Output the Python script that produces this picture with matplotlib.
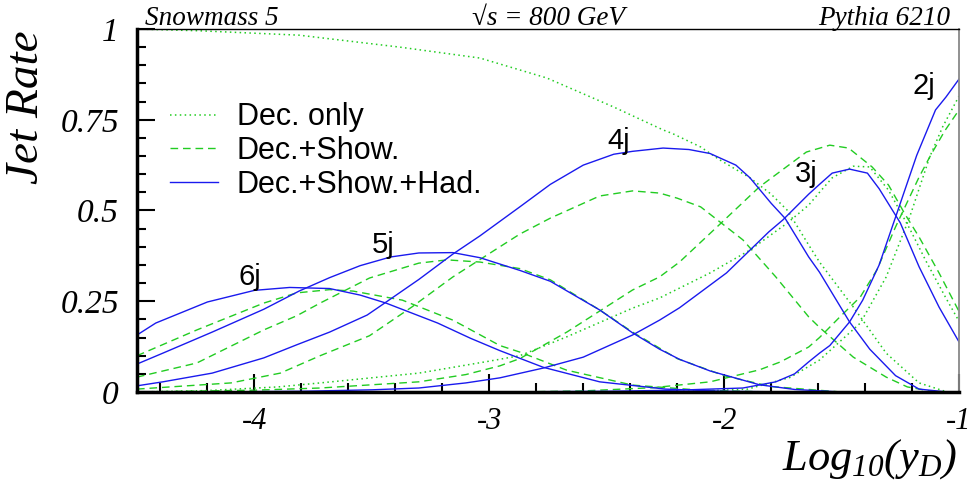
import matplotlib
matplotlib.use("Agg")
import matplotlib.pyplot as plt
from matplotlib.ticker import MultipleLocator
from matplotlib.lines import Line2D

# Datos: Log10(yD) -> Jet Rate
# Dec.+Show.+Had. (azul, continuo)
had_6j_x = [-4.5, -4.42, -4.2, -4.0, -3.85, -3.68, -3.55, -3.44, -3.22, -3.08, -2.955, -2.77, -2.53, -2.25, -2.0, -1.7, -1.0]
had_6j_y = [0.157, 0.19, 0.248, 0.28, 0.288, 0.285, 0.267, 0.245, 0.19, 0.148, 0.114, 0.068, 0.028, 0.008, 0.002, 0.0, 0.0]
had_5j_x = [-4.5, -4.39, -4.18, -3.96, -3.81, -3.68, -3.55, -3.42, -3.3, -3.155, -3.04, -2.87, -2.74, -2.53, -2.39, -2.275, -2.19, -2.06, -1.85, -1.7, -1.5, -1.0]
had_5j_y = [0.077, 0.107, 0.165, 0.228, 0.278, 0.315, 0.348, 0.372, 0.383, 0.384, 0.37, 0.335, 0.305, 0.226, 0.163, 0.118, 0.09, 0.058, 0.02, 0.007, 0.0, 0.0]
had_4j_x = [-4.5, -4.39, -4.18, -3.96, -3.82, -3.68, -3.52, -3.45, -3.3, -3.155, -3.04, -2.955, -2.87, -2.74, -2.6, -2.47, -2.39, -2.26, -2.15, -2.06, -1.95, -1.89, -1.8, -1.74, -1.64, -1.594, -1.466, -1.38, -1.27, -1.17, -1.05, -1.0]
had_4j_y = [0.017, 0.028, 0.052, 0.094, 0.13, 0.165, 0.212, 0.243, 0.31, 0.38, 0.43, 0.47, 0.51, 0.572, 0.625, 0.655, 0.663, 0.672, 0.668, 0.657, 0.625, 0.59, 0.52, 0.478, 0.372, 0.33, 0.193, 0.118, 0.045, 0.008, 0.0, 0.0]
had_3j_x = [-4.2, -3.8, -3.5, -3.3, -3.1, -2.955, -2.77, -2.6, -2.39, -2.275, -2.19, -1.99, -1.81, -1.75, -1.64, -1.594, -1.54, -1.466, -1.39, -1.34, -1.25, -1.17, -1.085, -1.0]
had_3j_y = [0.0, 0.002, 0.006, 0.011, 0.025, 0.039, 0.066, 0.096, 0.157, 0.198, 0.232, 0.328, 0.441, 0.474, 0.545, 0.572, 0.603, 0.614, 0.603, 0.56, 0.466, 0.345, 0.234, 0.138]
had_2j_x = [-3.0, -2.5, -2.2, -1.92, -1.78, -1.7, -1.64, -1.594, -1.55, -1.466, -1.41, -1.34, -1.27, -1.18, -1.1, -1.055, -1.0]
had_2j_y = [0.0, 0.002, 0.005, 0.011, 0.028, 0.05, 0.083, 0.107, 0.128, 0.193, 0.253, 0.35, 0.482, 0.652, 0.777, 0.813, 0.862]

# Dec.+Show. (verde, discontinuo)
show_6j_x = [-4.5, -4.245, -3.96, -3.82, -3.68, -3.58, -3.37, -3.155, -2.955, -2.87, -2.67, -2.39, -2.1, -1.8, -1.0]
show_6j_y = [0.1, 0.171, 0.245, 0.273, 0.282, 0.278, 0.253, 0.198, 0.128, 0.11, 0.06, 0.019, 0.005, 0.0, 0.0]
show_5j_x = [-4.5, -4.245, -3.96, -3.82, -3.72, -3.51, -3.3, -3.18, -3.04, -2.87, -2.74, -2.53, -2.39, -2.2, -2.0, -1.8, -1.5, -1.0]
show_5j_y = [0.041, 0.08, 0.171, 0.21, 0.245, 0.314, 0.355, 0.364, 0.358, 0.34, 0.309, 0.226, 0.165, 0.092, 0.045, 0.015, 0.0, 0.0]
show_4j_x = [-4.5, -4.1, -3.89, -3.72, -3.51, -3.33, -3.155, -2.955, -2.87, -2.74, -2.53, -2.39, -2.275, -2.2, -2.1, -1.92, -1.78, -1.64, -1.594, -1.45, -1.31, -1.22, -1.1, -1.0]
show_4j_y = [0.008, 0.025, 0.052, 0.1, 0.155, 0.234, 0.317, 0.4, 0.435, 0.479, 0.54, 0.554, 0.548, 0.534, 0.51, 0.419, 0.317, 0.207, 0.178, 0.096, 0.041, 0.014, 0.0, 0.0]
show_3j_x = [-4.5, -4.0, -3.72, -3.3, -3.1, -2.955, -2.87, -2.67, -2.39, -2.275, -2.19, -2.03, -1.85, -1.65, -1.55, -1.47, -1.37, -1.3, -1.23, -1.17, -1.085, -1.0]
show_3j_y = [0.0, 0.005, 0.011, 0.028, 0.048, 0.072, 0.092, 0.165, 0.281, 0.317, 0.358, 0.455, 0.565, 0.661, 0.68, 0.672, 0.62, 0.57, 0.49, 0.427, 0.328, 0.222]
show_2j_x = [-2.9, -2.6, -2.3, -2.06, -1.85, -1.76, -1.64, -1.594, -1.51, -1.42, -1.35, -1.27, -1.17, -1.12, -1.06, -1.0]
show_2j_y = [0.0, 0.003, 0.012, 0.028, 0.061, 0.083, 0.124, 0.15, 0.205, 0.262, 0.336, 0.455, 0.592, 0.653, 0.72, 0.777]

# Dec. only (verde, punteado)
dec_4j_x = [-4.5, -4.23, -3.81, -3.38, -3.04, -2.755, -2.47, -2.26, -2.22, -2.1, -2.02, -1.89, -1.8, -1.73, -1.64, -1.594, -1.45, -1.31, -1.17, -1.05, -1.0]
dec_4j_y = [1.0, 0.995, 0.983, 0.95, 0.92, 0.865, 0.785, 0.722, 0.712, 0.675, 0.64, 0.59, 0.545, 0.5, 0.405, 0.358, 0.234, 0.107, 0.025, 0.0, 0.0]
dec_3j_x = [-4.5, -4.2, -3.9, -3.72, -3.3, -3.0, -2.87, -2.67, -2.39, -2.275, -2.06, -1.89, -1.73, -1.64, -1.594, -1.54, -1.45, -1.38, -1.3, -1.21, -1.14, -1.055, -1.0]
dec_3j_y = [0.0, 0.004, 0.014, 0.025, 0.052, 0.085, 0.1, 0.152, 0.231, 0.259, 0.328, 0.391, 0.466, 0.515, 0.55, 0.59, 0.622, 0.62, 0.556, 0.45, 0.36, 0.258, 0.195]
dec_2j_x = [-2.3, -2.0, -1.9, -1.72, -1.594, -1.42, -1.31, -1.21, -1.125, -1.07, -1.0]
dec_2j_y = [0.0, 0.005, 0.008, 0.04, 0.088, 0.19, 0.317, 0.482, 0.647, 0.73, 0.815]

# Etiquetas de multiplicidad
jet_labels = ["2j", "3j", "4j", "5j", "6j"]
jet_label_x = [-1.15, -1.65, -2.45, -3.45, -4.02]
jet_label_y = [0.843, 0.60, 0.691, 0.405, 0.317]

legend_labels = ["Dec. only", "Dec.+Show.", "Dec.+Show.+Had."]

GREEN = "#22cc22"
BLUE = "#1a1aee"
SERIF = "Liberation Serif"
SANS = "Liberation Sans"

plt.rcParams["mathtext.fontset"] = "custom"
plt.rcParams["mathtext.rm"] = "Liberation Serif:italic"
plt.rcParams["mathtext.it"] = "Liberation Serif:italic"

fig = plt.figure(figsize=(9.73, 4.90), dpi=100)
ax = fig.add_axes([137 / 973, 98 / 490, 822 / 973, 363 / 490])

dot_style = dict(color=GREEN, lw=1.1, linestyle=(0, (1, 2.2)))
dash_style = dict(color=GREEN, lw=1.0, linestyle=(0, (5.5, 3.5)))
solid_style = dict(color=BLUE, lw=1.0, linestyle="-")

for xs, ys in [(dec_4j_x, dec_4j_y), (dec_3j_x, dec_3j_y), (dec_2j_x, dec_2j_y)]:
    ax.plot(xs, ys, **dot_style)
for xs, ys in [(show_6j_x, show_6j_y), (show_5j_x, show_5j_y), (show_4j_x, show_4j_y),
               (show_3j_x, show_3j_y), (show_2j_x, show_2j_y)]:
    ax.plot(xs, ys, **dash_style)
for xs, ys in [(had_6j_x, had_6j_y), (had_5j_x, had_5j_y), (had_4j_x, had_4j_y),
               (had_3j_x, had_3j_y), (had_2j_x, had_2j_y)]:
    ax.plot(xs, ys, **solid_style)

for lab, lx, ly in zip(jet_labels, jet_label_x, jet_label_y):
    ax.text(lx, ly, lab, fontsize=21, family=SANS, ha="center", va="center")

handles = [Line2D([], [], **dot_style), Line2D([], [], **dash_style), Line2D([], [], **solid_style)]
leg = ax.legend(handles, legend_labels, loc="upper left", bbox_to_anchor=(0.04, 0.798),
                frameon=False, prop={"family": SANS, "size": 22}, handlelength=1.57,
                handletextpad=0.62, labelspacing=0.12, borderaxespad=0, borderpad=0)

ax.set_xlim(-4.5, -1)
ax.set_ylim(0, 1)
ax.set_xticks([-4, -3, -2, -1])
ax.set_xticklabels(["-4", "-3", "-2", "-1"])
ax.set_yticks([0, 0.25, 0.5, 0.75, 1])
ax.set_yticklabels(["0", "0.25", "0.5", "0.75", "1"])
ax.xaxis.set_minor_locator(MultipleLocator(0.2))
ax.yaxis.set_minor_locator(MultipleLocator(0.05))
ax.tick_params(which="both", direction="in", top=False, right=False, width=1.5, color="black")
ax.tick_params(which="major", length=13)
ax.tick_params(which="minor", length=6.5)
ax.tick_params(axis="x", pad=11, labelsize=22)
ax.tick_params(axis="y", pad=13, labelsize=24)
for t in ax.get_xticklabels() + ax.get_yticklabels():
    t.set_fontfamily(SERIF)
    t.set_fontstyle("italic")

ax.spines["left"].set_linewidth(2.5)
ax.spines["bottom"].set_linewidth(2.5)
ax.spines["top"].set_linewidth(1.0)
ax.spines["right"].set_linewidth(1.3)
ax.spines["right"].set_color("#888888")

# Titulos de la figura
fig.text(0.027, 1 - 30 / 490, "Jet Rate", rotation=90, ha="center", va="top",
         family=SERIF, style="italic", fontsize=34)
fig.text(957 / 973, 1 - 470 / 490, r"$Log_{10}(y_D)$", ha="right", va="baseline", fontsize=32)
fig.text(145 / 973, 1 - 25 / 490, "Snowmass 5", ha="left", va="baseline",
         family=SERIF, style="italic", fontsize=19.5)
fig.text(548 / 973, 1 - 25 / 490, "\u221as = 800 GeV", ha="center", va="baseline",
         family=SERIF, style="italic", fontsize=19.5)
fig.text(950 / 973, 1 - 25 / 490, "Pythia 6210", ha="right", va="baseline",
         family=SERIF, style="italic", fontsize=19.5)

fig.savefig("out.png", dpi=100)
